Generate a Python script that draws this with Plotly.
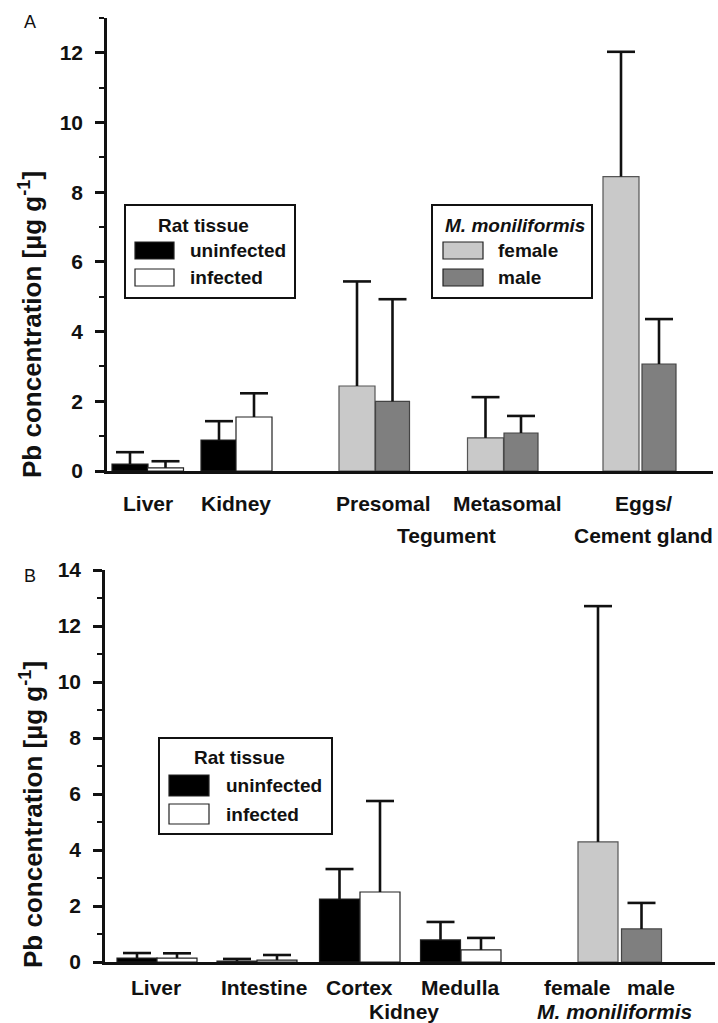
import plotly.graph_objects as go

# ---------------- DATA ----------------
# Panel A
a_rat_labels = ["Liver", "Kidney"]
a_uninfected = [0.20, 0.89]
a_uninfected_err = [0.34, 0.54]
a_infected = [0.09, 1.55]
a_infected_err = [0.19, 0.68]

a_worm_labels = ["Presomal", "Metasomal", "Eggs/"]
a_female = [2.44, 0.95, 8.45]
a_female_err = [3.00, 1.17, 3.58]
a_male = [2.00, 1.09, 3.07]
a_male_err = [2.93, 0.49, 1.29]
a_second_line = ["Tegument", "Cement gland"]

# Panel B
b_rat_labels = ["Liver", "Intestine", "Cortex", "Medulla"]
b_uninfected = [0.14, 0.03, 2.25, 0.79]
b_uninfected_err = [0.18, 0.08, 1.07, 0.64]
b_infected = [0.14, 0.07, 2.50, 0.43]
b_infected_err = [0.17, 0.18, 3.25, 0.43]

b_worm_labels = ["female", "male"]
b_worm = [4.29, 1.18]
b_worm_err = [8.42, 0.93]
b_second_line = ["Kidney", "<i>M. moniliformis</i>"]

y_title = "Pb concentration [µg g<sup>-1</sup>]"

# ---------------- LAYOUT POSITIONS (pixel-like x units) ----------------
W, H = 718, 1023
A_X0, A_X1, A_Y0, A_Y1 = 107, 713, 18, 471
B_X0, B_X1, B_Y0, B_Y1 = 105, 715, 570, 962

a_pos_uninf = [23, 112]
a_pos_inf = [58.5, 147]
a_pos_female = [250, 378.5, 514]
a_pos_male = [285.5, 414, 552]
a_lab_first = [41, 129, 276, 400, 536]
a_lab_second = [339, 536]

b_pos_uninf = [32, 132, 234.5, 335.5]
b_pos_inf = [72, 172, 275, 376]
b_pos_worm = [493, 536.5]
b_lab_first = [51, 159, 254, 355, 472, 546]
b_lab_second = [299, 509]

FONT = "Liberation Sans"
BLACK = "#111111"
C_FEMALE = "#c9c9c9"
C_MALE = "#7f7f7f"


def px(x):
    return x / W


def py(y):
    return 1 - y / H


fig = go.Figure()


def add_bars(xs, ys, errs, color, width, xa, ya, line_color="#222222"):
    fig.add_trace(go.Bar(
        x=xs, y=ys, width=width, marker=dict(color=color, line=dict(color=line_color, width=1.2)),
        xaxis=xa, yaxis=ya, showlegend=False, hoverinfo="skip"))
    # upward-only error bars: stem + cap
    sx, sy = [], []
    for x, y, e in zip(xs, ys, errs):
        sx += [x, x, None]
        sy += [y, y + e, None]
    fig.add_trace(go.Scatter(x=sx, y=sy, mode="lines", line=dict(color=BLACK, width=2.6),
                             xaxis=xa, yaxis=ya, showlegend=False, hoverinfo="skip"))
    fig.add_trace(go.Scatter(x=xs, y=[y + e for y, e in zip(ys, errs)], mode="markers",
                             marker=dict(symbol="line-ew", size=20, line=dict(color=BLACK, width=2.6)),
                             xaxis=xa, yaxis=ya, showlegend=False, hoverinfo="skip"))


# Panel A
add_bars(a_pos_uninf, a_uninfected, a_uninfected_err, "#000000", 36, "x", "y")
add_bars(a_pos_inf, a_infected, a_infected_err, "#ffffff", 36, "x", "y")
add_bars(a_pos_female, a_female, a_female_err, C_FEMALE, 36, "x", "y", "#555555")
add_bars(a_pos_male, a_male, a_male_err, C_MALE, 34, "x", "y", "#444444")

# Panel B
add_bars(b_pos_uninf, b_uninfected, b_uninfected_err, "#000000", 40, "x2", "y2")
add_bars(b_pos_inf, b_infected, b_infected_err, "#ffffff", 40, "x2", "y2")
add_bars(b_pos_worm[:1], b_worm[:1], b_worm_err[:1], C_FEMALE, 40, "x2", "y2", "#555555")
add_bars(b_pos_worm[1:], b_worm[1:], b_worm_err[1:], C_MALE, 40, "x2", "y2", "#444444")

tickfont = dict(family=FONT, size=21, color=BLACK, weight="bold")
yax_common = dict(showline=True, linecolor=BLACK, linewidth=2.5, ticks="outside", ticklen=9,
                  tickwidth=2.5, tickcolor=BLACK, tickfont=tickfont, showgrid=False, zeroline=False,
                  dtick=2, ticklabelstandoff=8, automargin=False,
                  minor=dict(ticks="outside", ticklen=5, tickwidth=2, tickcolor=BLACK, dtick=1, showgrid=False))
xax_common = dict(showline=True, linecolor=BLACK, linewidth=2.5, ticks="", showticklabels=False,
                  showgrid=False, zeroline=False, automargin=False)

fig.update_layout(
    width=W, height=H, margin=dict(l=0, r=0, t=0, b=0, pad=0, autoexpand=False),
    paper_bgcolor="white", plot_bgcolor="white", barmode="overlay",
    xaxis=dict(domain=[px(A_X0), px(A_X1)], range=[0, A_X1 - A_X0], anchor="y", **xax_common),
    yaxis=dict(domain=[py(A_Y1), py(A_Y0)], range=[0, 13], anchor="x", tick0=0, **yax_common),
    xaxis2=dict(domain=[px(B_X0), px(B_X1)], range=[0, B_X1 - B_X0], anchor="y2", **xax_common),
    yaxis2=dict(domain=[py(B_Y1), py(B_Y0)], range=[0, 14], anchor="x2", tick0=0, **yax_common),
)

ann = []
lab_font = dict(family=FONT, size=21, color=BLACK, weight="bold")


def label(x, y, text, xref, font=lab_font, xanchor="center", **kw):
    ann.append(dict(x=x, y=y, xref=xref, yref="paper", text=text, showarrow=False,
                    font=font, xanchor=xanchor, yanchor="middle", **kw))


# x labels panel A
for t, x in zip(a_rat_labels + a_worm_labels, a_lab_first):
    label(x, py(503), t, "x")
for t, x in zip(a_second_line, a_lab_second):
    label(x, py(535), t, "x")

# x labels panel B
for t, x in zip(b_rat_labels + b_worm_labels, b_lab_first):
    label(x, py(987), t, "x2")
for t, x in zip(b_second_line, b_lab_second):
    label(x, py(1011), t, "x2")

# y titles
title_font = dict(family=FONT, size=26, color=BLACK, weight="bold")
label(px(31), py(325), y_title, "paper", font=title_font, textangle=-90)
label(px(31), py(815), y_title, "paper", font=title_font, textangle=-90)

# panel letters
pfont = dict(family=FONT, size=18, color=BLACK)
label(px(30), py(22), "A", "paper", font=pfont)
label(px(30), py(576), "B", "paper", font=pfont)

shapes = []
leg_font = dict(family=FONT, size=19, color=BLACK, weight="bold")


def legend(box, title, title_x, title_y, items):
    x0, y0, x1, y1 = box
    shapes.append(dict(type="rect", xref="paper", yref="paper", x0=px(x0), x1=px(x1),
                       y0=py(y1), y1=py(y0), line=dict(color=BLACK, width=2), fillcolor="white",
                       layer="above"))
    label(px(title_x), py(title_y), title, "paper", font=leg_font)
    for (sx0, sy0, sx1, sy1, col, lab, tx) in items:
        shapes.append(dict(type="rect", xref="paper", yref="paper", x0=px(sx0), x1=px(sx1),
                           y0=py(sy1), y1=py(sy0), line=dict(color="#222222", width=1.2),
                           fillcolor=col, layer="above"))
        label(px(tx), py((sy0 + sy1) / 2), lab, "paper", font=leg_font, xanchor="left")


legend((125, 205, 295, 298), "Rat tissue", 203, 225,
       [(135, 242, 174, 259, "#000000", "uninfected", 188),
        (135, 269, 174, 286, "#ffffff", "infected", 188)])
legend((432, 205, 592, 298), "<i>M. moniliformis</i>", 515, 225,
       [(443, 242, 483, 259, C_FEMALE, "female", 496),
        (443, 269, 483, 286, C_MALE, "male", 496)])
legend((159, 738, 332, 834), "Rat tissue", 239, 757,
       [(169, 775, 209, 796, "#000000", "uninfected", 224),
        (169, 804, 209, 824, "#ffffff", "infected", 224)])

fig.update_layout(annotations=ann, shapes=shapes)
fig.write_html("out.html", config={"displayModeBar": False},
               post_script="document.body.style.margin='0px';document.body.style.padding='0px';")
